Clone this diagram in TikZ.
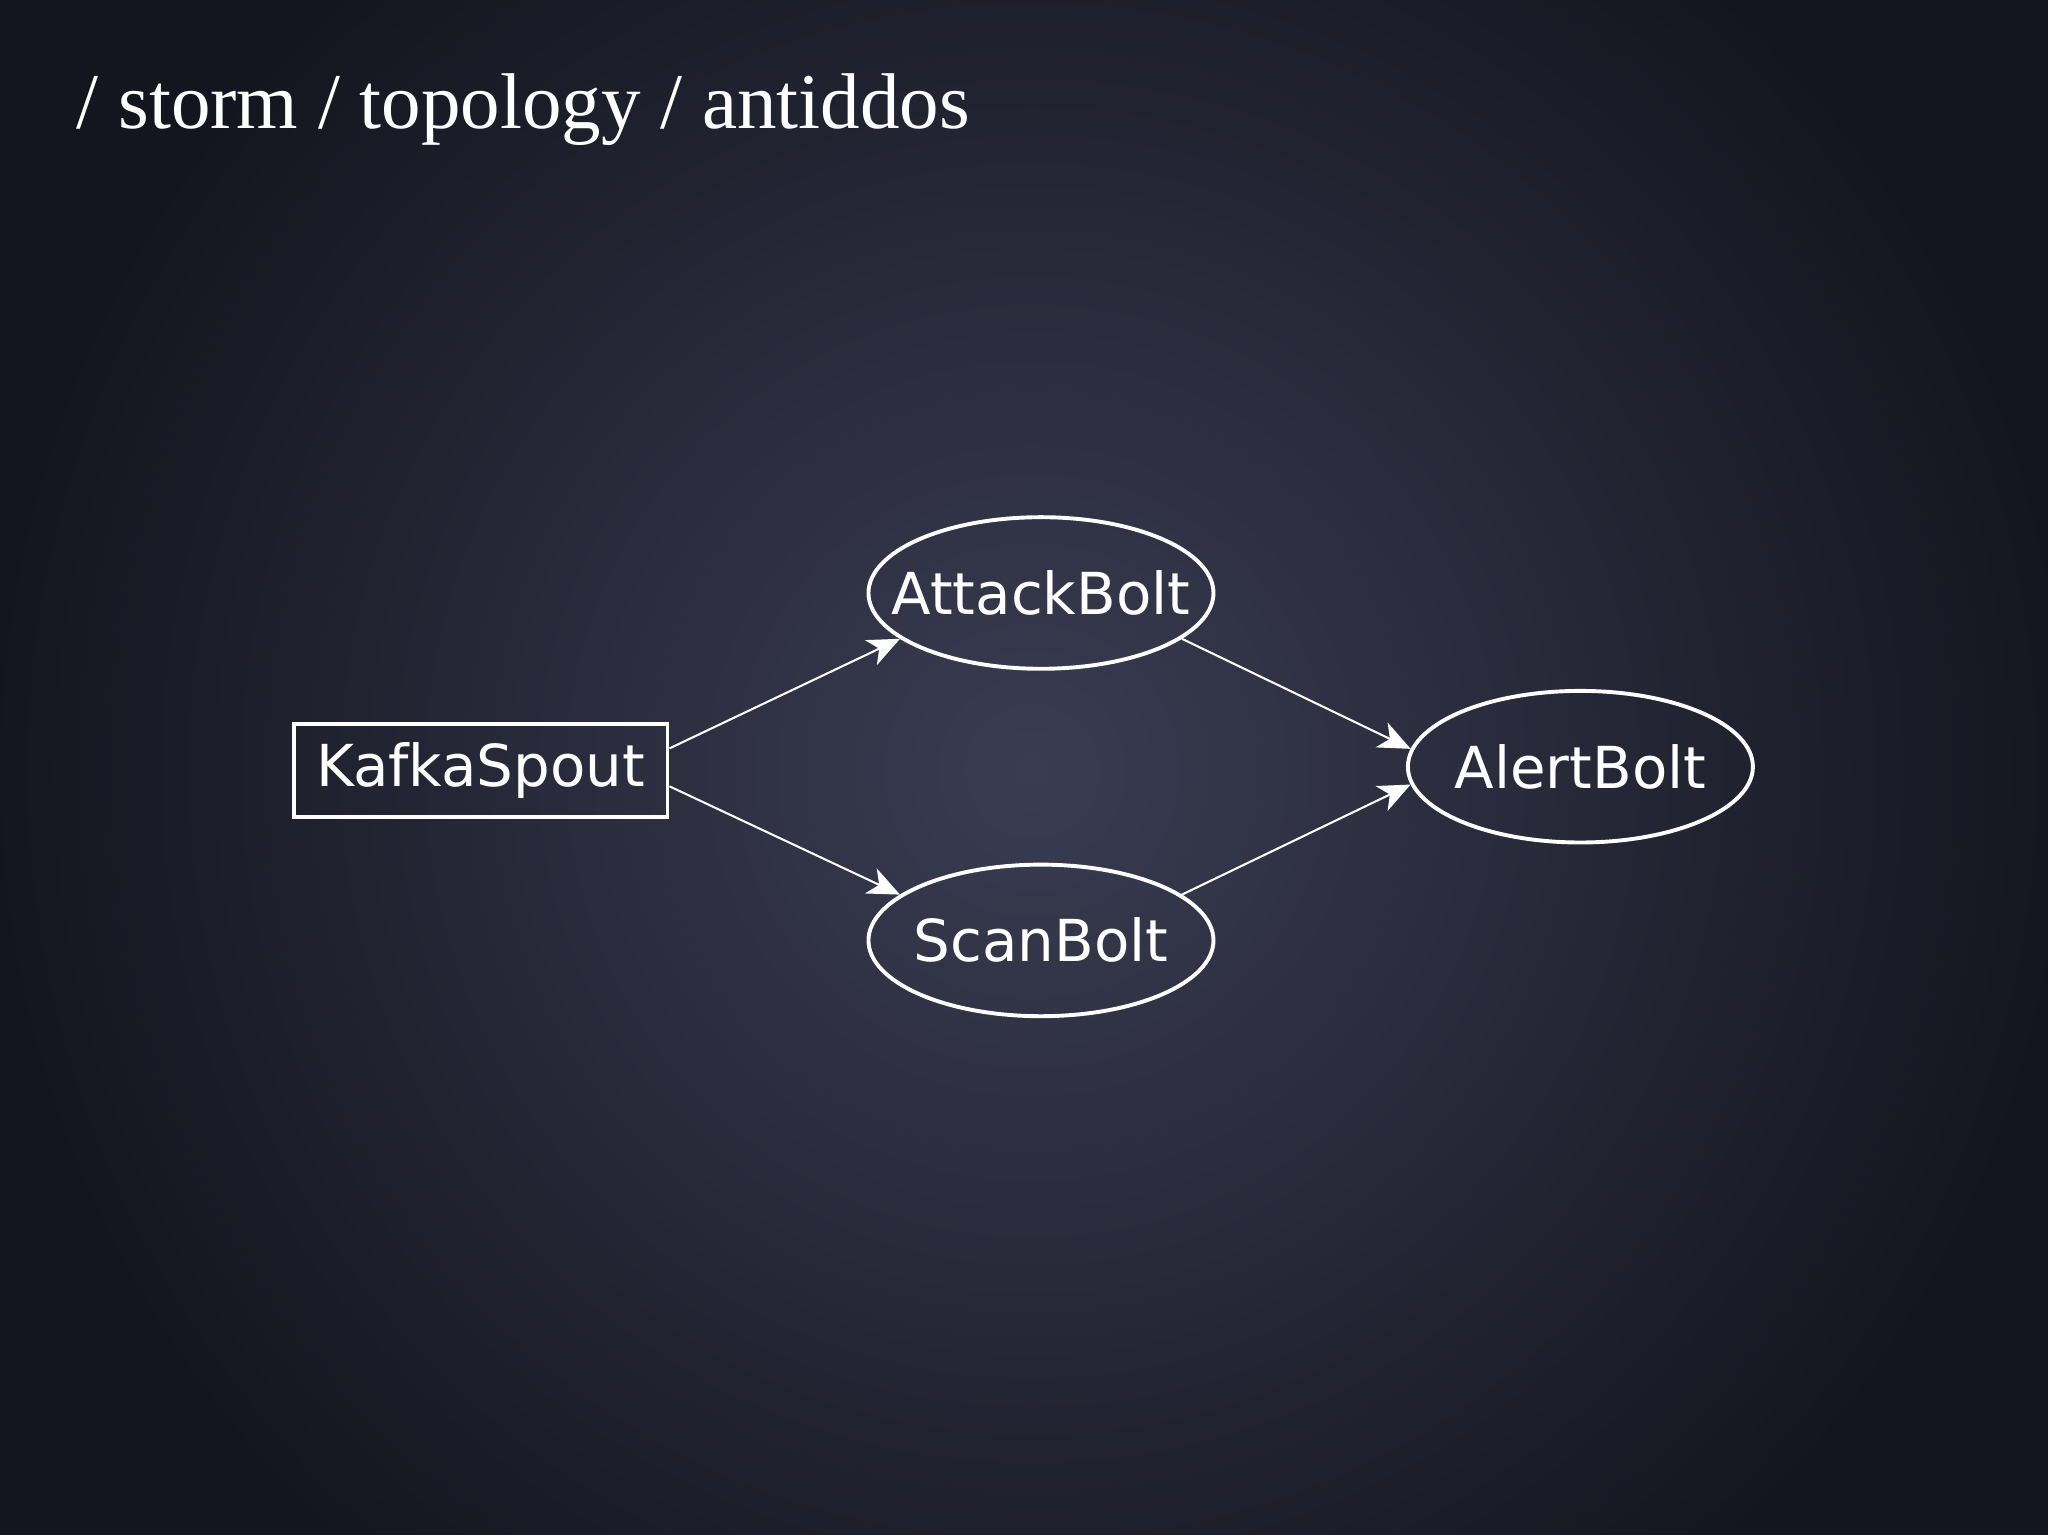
\documentclass[tikz,border=0pt]{standalone}
\usepackage{fontspec}
\setmainfont{DejaVu Sans}
\newfontfamily\titlefont{Liberation Serif}
\usetikzlibrary{shapes.geometric,arrows.meta}
\definecolor{bgin}{HTML}{3A3C52}
\definecolor{bgout}{HTML}{15151F}
\begin{document}
\begin{tikzpicture}[x=0.01cm,y=-0.01cm,
  lbl/.style={text=white,font=\fontsize{12.6pt}{15pt}\selectfont},
  ell/.style={lbl,ellipse,draw=white,line width=0.85pt,minimum width=2.64cm,minimum height=1.16cm,inner xsep=-0.5cm,inner ysep=-0.2cm},
  box/.style={lbl,rectangle,draw=white,line width=0.85pt,minimum width=2.86cm,minimum height=0.71cm,inner sep=0pt},
  edge/.style={draw=white,line width=0.45pt,-{Stealth[length=7pt,width=6pt,inset=2pt]}}]
\useasboundingbox (0,0) rectangle (1568,1175);
\fill[bgout] (0,0) rectangle (1568,1175);
\shade[inner color=bgin,outer color=bgout] (790,590) circle (800);
\node[anchor=base west,inner sep=0pt,text=white,font=\titlefont\fontsize{17.2pt}{20pt}\selectfont] (title) at (58,98) {/ storm / topology / antiddos};
\node[box] (k) at (368,590) {KafkaSpout};
\node[ell] (a) at (797,454) {AttackBolt};
\node[ell] (s) at (797,720) {ScanBolt};
\node[ell] (al) at (1210,587) {AlertBolt};
\draw[edge] ([yshift=0.17cm]k.east) -- (a.198);
\draw[edge] ([yshift=-0.12cm]k.east) -- (s.162);
\draw[edge] (a.-18) -- (al.174);
\draw[edge] (s.18) -- (al.186);
\end{tikzpicture}
\end{document}
